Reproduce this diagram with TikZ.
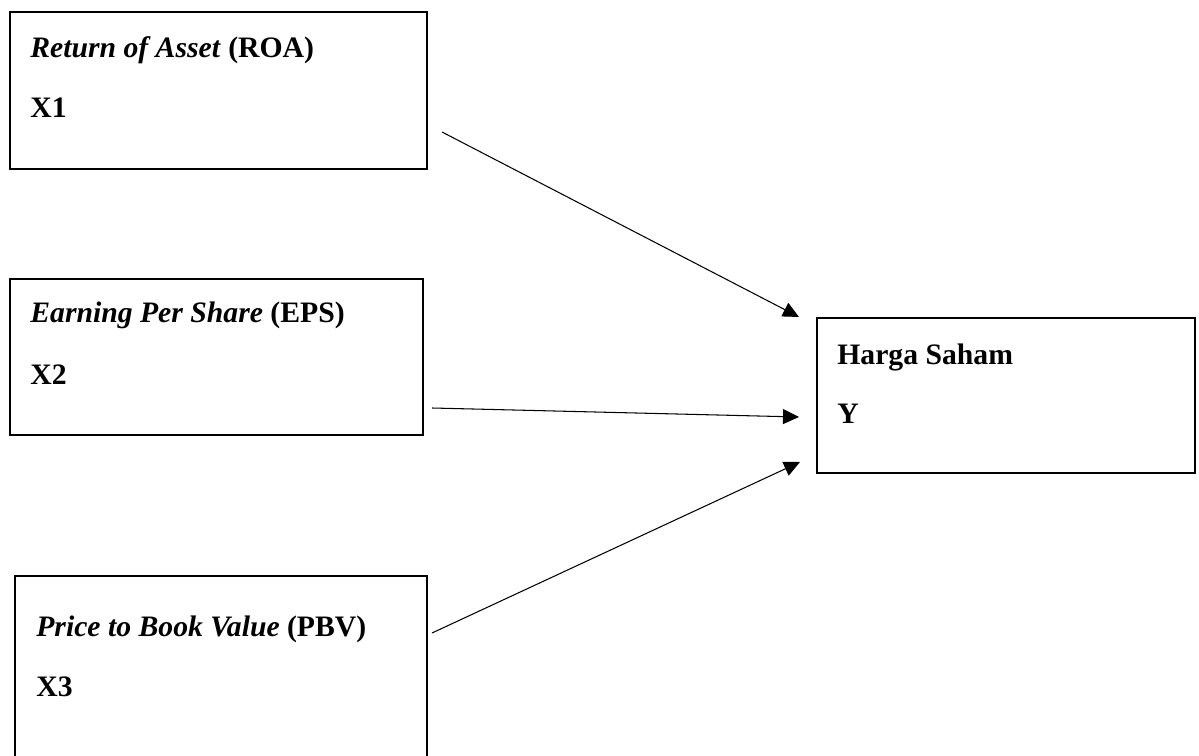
\documentclass[tikz,border=0pt]{standalone}
\usepackage{fontspec}
\setmainfont{Liberation Serif}
\usetikzlibrary{arrows.meta}
\tikzset{
  box/.style={draw, line width=1.3pt, anchor=north west, inner sep=0pt},
  lbl/.style={anchor=base west, inner sep=0pt, font=\fontsize{16.9}{20}\selectfont\bfseries},
  link/.style={line width=0.6pt, -{Triangle[length=0.32cm,width=0.3cm]}}
}
\begin{document}
\begin{tikzpicture}[x=0.02cm,y=-0.02cm]
                \useasboundingbox (0,0) rectangle (1199,756);
                \clip (0,0) rectangle (1199,756);

                \node[box, minimum width=8.34cm, minimum height=3.14cm] (roa) at (9,11) {};
                \node[box, minimum width=8.26cm, minimum height=3.12cm] (eps) at (9,278) {};
                \node[box, minimum width=8.24cm, minimum height=4.4cm] (pbv) at (14,575) {};
                \node[box, minimum width=7.56cm, minimum height=3.1cm] (harga) at (816,317) {};

                \node[lbl] (roa-name) at (30,58) {\textit{Return of Asset} (ROA)};
                \node[lbl] (roa-var) at (30,118) {X1};
                \node[lbl] (eps-name) at (30,323) {\textit{Earning Per Share} (EPS)};
                \node[lbl] (eps-var) at (30,385) {X2};
                \node[lbl] (pbv-name) at (36,636) {\textit{Price to Book Value} (PBV)};
                \node[lbl] (pbv-var) at (36,696) {X3};
                \node[lbl] (harga-name) at (837,365) {Harga Saham};
                \node[lbl] (harga-var) at (837,423) {Y};

                \coordinate (roa-out) at (442,132);
                \coordinate (eps-out) at (432,408);
                \coordinate (pbv-out) at (432,633);
                \coordinate (roa-in) at (799,317);
                \coordinate (eps-in) at (799,417);
                \coordinate (pbv-in) at (800,462);

                \draw[link] (roa-out) -- (roa-in);
                \draw[link] (eps-out) -- (eps-in);
                \draw[link] (pbv-out) -- (pbv-in);
            \end{tikzpicture}
\end{document}
